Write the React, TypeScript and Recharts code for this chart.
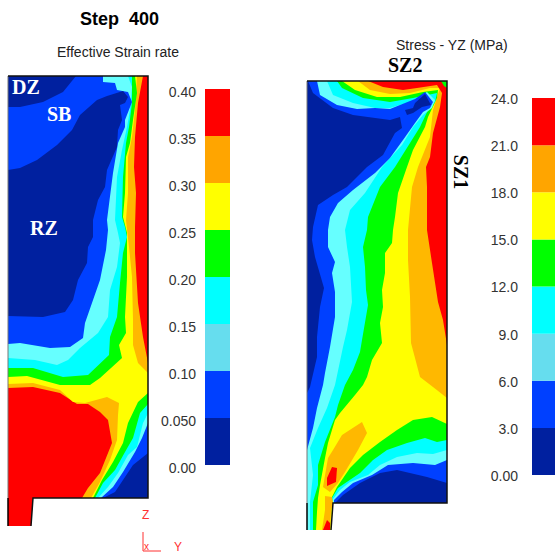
import React from 'react';
import { ScatterChart, Scatter, XAxis, YAxis, BarChart, Bar } from 'recharts';

type Pt = [number, number];

const NAVY = '#00209F';
const BLUE = '#0040FF';
const LCYAN = '#66FFFF';
const CYAN = '#00FFFF';
const GREEN = '#00FF00';
const YELLOW = '#FFFF00';
const ORANGE = '#FFB800';
const RED = '#FF0000';

// colour scale, bottom to top
const barColors = ['#00209F', '#0040FF', '#66DDEE', '#00FFFF', '#00FF00', '#FFFF00', '#FFA500', '#FF0000'];
const strainBands = [0.05, 0.05, 0.05, 0.05, 0.05, 0.05, 0.05, 0.05];
const strainTicks = [0, 0.05, 0.1, 0.15, 0.2, 0.25, 0.3, 0.35, 0.4];
const strainLabels = ['0.00', '0.050', '0.10', '0.15', '0.20', '0.25', '0.30', '0.35', '0.40'];
const stressBands = [3, 3, 3, 3, 3, 3, 3, 3];
const stressTicks = [0, 3, 6, 9, 12, 15, 18, 21, 24];
const stressLabels = ['0.00', '3.0', '6.0', '9.0', '12.0', '15.0', '18.0', '21.0', '24.0'];

// contour regions of the left plot (y runs downward)
const leftOutline: Pt[] = [[8, 76], [148, 76], [148, 498], [33, 498], [31, 526], [8, 526]];
const leftOrange: Pt[] = [[8, 76], [143, 76], [138, 103], [135, 137], [134, 167], [136, 193], [135, 227], [135, 253], [138, 303], [143, 337], [148, 363], [148, 498], [82, 498], [88, 488], [100, 473], [112, 443], [108, 420], [100, 412], [88, 404], [77, 404], [60, 393], [33, 387], [8, 388]];
const leftYellow: Pt[] = [[8, 76], [137, 76], [135, 110], [132, 137], [128, 157], [128, 193], [126, 220], [129, 247], [132, 277], [133, 320], [133, 345], [138, 363], [148, 373], [148, 498], [91, 498], [100, 482], [110, 460], [117, 440], [118, 415], [119, 403], [107, 397], [85, 403], [73, 402], [60, 390], [33, 383], [8, 384]];
const leftGreen: Pt[] = [[8, 76], [135, 76], [137, 93], [133, 120], [130, 143], [126, 157], [125, 193], [123, 217], [127, 233], [127, 277], [125, 317], [126, 333], [119, 345], [122, 358], [100, 378], [90, 385], [60, 385], [27, 376], [8, 377]];
const leftCyan: Pt[] = [[8, 76], [132, 76], [132, 103], [129, 127], [126, 143], [123, 177], [122, 217], [125, 227], [127, 237], [123, 253], [120, 283], [117, 317], [110, 337], [109, 355], [88, 375], [63, 377], [33, 368], [8, 368]];
const leftLcyan: Pt[] = [[8, 76], [128, 76], [132, 87], [130, 110], [127, 127], [122, 150], [117, 177], [115, 220], [118, 233], [120, 243], [117, 267], [110, 290], [108, 317], [98, 333], [80, 348], [68, 360], [57, 365], [35, 360], [8, 358]];
const leftBlue: Pt[] = [[8, 76], [103, 76], [103, 82], [115, 83], [117, 90], [128, 92], [132, 102], [125, 120], [125, 127], [118, 143], [113, 173], [107, 220], [108, 230], [106, 250], [100, 280], [85, 323], [83, 338], [70, 347], [50, 348], [20, 343], [8, 344]];
const leftNavyTop: Pt[] = [[8, 76], [76, 76], [63, 92], [43, 102], [20, 107], [8, 107]];
const leftNavyMid: Pt[] = [[8, 170], [20, 168], [37, 160], [57, 145], [72, 130], [80, 115], [97, 100], [107, 96], [123, 91], [128, 97], [125, 103], [120, 105], [122, 120], [118, 130], [117, 147], [107, 170], [105, 187], [98, 200], [93, 220], [93, 237], [88, 247], [87, 263], [78, 280], [73, 300], [65, 312], [43, 317], [8, 316]];
const leftGreenLow: Pt[] = [[148, 393], [138, 402], [128, 423], [123, 443], [113, 462], [102, 480], [93, 498], [148, 498]];
const leftCyanLow: Pt[] = [[148, 404], [140, 413], [133, 438], [125, 452], [115, 470], [103, 483], [95, 498], [148, 498]];
const leftLcyanLow: Pt[] = [[148, 413], [143, 423], [137, 447], [128, 455], [118, 473], [108, 487], [98, 498], [148, 498]];
const leftBlueLow: Pt[] = [[148, 423], [142, 438], [135, 452], [123, 472], [113, 487], [101, 498], [148, 498]];
const leftNavyLow: Pt[] = [[148, 453], [133, 465], [123, 480], [115, 492], [103, 498], [148, 498]];

// contour regions of the right plot
const rightOutline: Pt[] = [[307, 81], [447, 81], [447, 503], [333, 503], [331, 530], [307, 530]];
const rightOrange: Pt[] = [[358, 81], [370, 90], [390, 94], [410, 93], [430, 88], [440, 88], [433, 110], [430, 137], [422, 157], [418, 167], [412, 187], [408, 230], [408, 260], [410, 297], [411, 343], [415, 358], [420, 377], [433, 387], [447, 398], [447, 81]];
const rightRed: Pt[] = [[368, 81], [383, 87], [403, 90], [417, 88], [437, 85], [442, 93], [440, 107], [433, 133], [430, 157], [426, 167], [427, 187], [427, 230], [432, 263], [438, 302], [443, 320], [447, 345], [447, 81]];
const rightGreen: Pt[] = [[307, 81], [342, 81], [355, 90], [377, 97], [400, 97], [423, 92], [438, 90], [437, 98], [428, 117], [425, 127], [413, 150], [407, 167], [398, 193], [395, 217], [393, 230], [392, 243], [385, 253], [385, 273], [382, 290], [383, 307], [380, 323], [382, 343], [372, 360], [367, 377], [363, 385], [355, 395], [340, 413], [335, 420], [328, 443], [325, 458], [320, 485], [318, 498], [317, 512], [316, 530], [307, 530]];
const rightCyan: Pt[] = [[307, 81], [337, 81], [342, 88], [363, 98], [390, 102], [413, 98], [437, 93], [435, 102], [428, 110], [420, 127], [410, 143], [395, 167], [380, 187], [368, 217], [367, 230], [363, 247], [365, 267], [366, 290], [368, 305], [362, 340], [360, 352], [353, 370], [345, 385], [338, 405], [335, 417], [325, 442], [318, 465], [318, 485], [313, 502], [313, 518], [313, 530], [307, 530]];
const rightLcyan: Pt[] = [[307, 81], [327, 81], [333, 95], [353, 103], [375, 108], [390, 108], [410, 102], [427, 92], [435, 100], [432, 108], [423, 115], [413, 127], [402, 145], [382, 167], [365, 193], [350, 210], [345, 230], [347, 247], [350, 267], [352, 302], [347, 330], [343, 347], [335, 385], [327, 408], [318, 428], [310, 448], [313, 475], [310, 502], [310, 530], [307, 530]];
const rightBlue: Pt[] = [[307, 81], [317, 81], [320, 95], [337, 105], [357, 109], [375, 108], [390, 109], [415, 99], [425, 92], [433, 102], [430, 108], [423, 112], [415, 123], [403, 140], [390, 158], [375, 173], [353, 190], [338, 203], [330, 217], [328, 230], [328, 247], [335, 262], [332, 273], [335, 292], [335, 317], [330, 347], [325, 373], [323, 385], [317, 408], [313, 428], [307, 450]];
const rightNavy: Pt[] = [[307, 81], [308, 81], [313, 93], [333, 108], [353, 115], [390, 120], [400, 117], [402, 128], [395, 133], [383, 155], [367, 167], [347, 187], [333, 195], [318, 205], [313, 227], [312, 240], [315, 257], [324, 288], [320, 307], [317, 337], [317, 357], [310, 387], [307, 393]];
const rightNavyPatch: Pt[] = [[415, 103], [425, 94], [431, 105], [422, 107], [413, 113], [407, 115], [405, 110], [413, 108]];
const rightGreenLow: Pt[] = [[447, 424], [432, 417], [413, 420], [397, 430], [380, 442], [363, 455], [350, 468], [337, 487], [332, 497], [333, 503], [447, 503]];
const rightCyanLow: Pt[] = [[447, 440], [437, 442], [425, 438], [407, 443], [387, 450], [373, 460], [360, 473], [338, 488], [332, 498], [333, 503], [447, 503]];
const rightLcyanLow: Pt[] = [[447, 450], [433, 454], [417, 453], [397, 457], [380, 465], [368, 475], [350, 482], [340, 490], [333, 499], [333, 503], [447, 503]];
const rightBlueLow: Pt[] = [[447, 460], [435, 465], [413, 463], [388, 465], [372, 475], [353, 483], [342, 492], [334, 500], [334, 503], [447, 503]];
const rightNavyLow: Pt[] = [[447, 483], [427, 477], [397, 470], [380, 473], [360, 483], [343, 495], [335, 503], [447, 503]];
const rightOrangeSpot: Pt[] = [[362, 422], [367, 433], [358, 450], [345, 472], [338, 483], [330, 492], [323, 487], [328, 458], [333, 450], [342, 435]];
const rightRedSpot: Pt[] = [[332, 467], [337, 468], [336, 482], [327, 486], [327, 478]];
const pinOrange: Pt[] = [[325, 496], [332, 497], [333, 503], [331, 510], [330, 530], [322, 530], [325, 510]];
const pinRed: Pt[] = [[323, 530], [327, 520], [330, 523], [330, 530]];
const cornerGreen: Pt[] = [[441, 81], [447, 81], [447, 88], [444, 86]];

// painted back to front
const layers: [Pt[], string][] = [
  [leftOutline, RED],
  [leftOrange, ORANGE],
  [leftYellow, YELLOW],
  [leftGreen, GREEN],
  [leftCyan, CYAN],
  [leftLcyan, LCYAN],
  [leftBlue, BLUE],
  [leftNavyTop, NAVY],
  [leftNavyMid, NAVY],
  [leftGreenLow, GREEN],
  [leftCyanLow, CYAN],
  [leftLcyanLow, LCYAN],
  [leftBlueLow, BLUE],
  [leftNavyLow, NAVY],
  [rightOutline, YELLOW],
  [rightOrange, ORANGE],
  [rightRed, RED],
  [rightGreen, GREEN],
  [rightCyan, CYAN],
  [rightLcyan, LCYAN],
  [rightBlue, BLUE],
  [rightNavy, NAVY],
  [rightNavyPatch, NAVY],
  [rightGreenLow, GREEN],
  [rightCyanLow, CYAN],
  [rightLcyanLow, LCYAN],
  [rightBlueLow, BLUE],
  [rightNavyLow, NAVY],
  [rightOrangeSpot, ORANGE],
  [rightRedSpot, RED],
  [pinOrange, ORANGE],
  [pinRed, RED],
  [cornerGreen, GREEN],
];

// outlines and the little axis triad
const frames: [Pt[], string, number][] = [
  [[[8, 76], [8, 498]], '#777777', 1],
  [[[8, 498], [8, 526]], '#000000', 1.5],
  [[[8, 76], [148, 76], [148, 498], [33, 498], [31, 526]], '#111111', 1.5],
  [[[307, 81], [307, 503]], '#777777', 1],
  [[[307, 503], [307, 530]], '#000000', 1.5],
  [[[307, 81], [447, 81], [447, 503], [333, 503], [331, 530]], '#111111', 1.5],
  [[[143, 532], [143, 551], [161, 551]], '#FF3030', 1],
];

const toPoints = (pts: Pt[]) => pts.map(([x, y]) => ({ x, y }));
const noDot = () => <g />;

const sans = '"Liberation Sans", Arial, sans-serif';
const serif = '"Liberation Serif", "Times New Roman", serif';

const labels: { text: string; left: number; top: number; style: React.CSSProperties }[] = [
  { text: 'Step  400', left: 80, top: 9, style: { fontFamily: sans, fontWeight: 700, fontSize: 18, color: '#000' } },
  { text: 'Effective Strain rate', left: 57, top: 44, style: { fontFamily: sans, fontSize: 14, color: '#222' } },
  { text: 'Stress - YZ (MPa)', left: 396, top: 37, style: { fontFamily: sans, fontSize: 14, color: '#222' } },
  { text: 'SZ2', left: 388, top: 54, style: { fontFamily: serif, fontWeight: 700, fontSize: 20, color: '#000' } },
  { text: 'DZ', left: 12, top: 76, style: { fontFamily: serif, fontWeight: 700, fontSize: 20, color: '#fff' } },
  { text: 'SB', left: 47, top: 103, style: { fontFamily: serif, fontWeight: 700, fontSize: 20, color: '#fff' } },
  { text: 'RZ', left: 30, top: 217, style: { fontFamily: serif, fontWeight: 700, fontSize: 20, color: '#fff' } },
  { text: 'Z', left: 142, top: 509, style: { fontFamily: sans, fontSize: 12, color: '#FF3030' } },
  { text: 'x', left: 144, top: 541, style: { fontFamily: sans, fontSize: 10, color: '#FF3030' } },
  { text: 'Y', left: 174, top: 541, style: { fontFamily: sans, fontSize: 12, color: '#FF3030' } },
];

type ScaleProps = {
  left: number;
  top: number;
  width: number;
  height: number;
  bands: number[];
  ticks: number[];
  tickLabels: string[];
  axisWidth: number;
  tickMargin: number;
  tickDy: number;
  margin: { top: number; right: number; bottom: number; left: number };
};

const ColorScale = ({ left, top, width, height, bands, ticks, tickLabels, axisWidth, tickMargin, tickDy, margin }: ScaleProps) => {
  const row: Record<string, number | string> = { name: 'scale' };
  bands.forEach((b, i) => { row[`b${i}`] = b; });
  return (
    <div style={{ position: 'absolute', left, top }}>
      <BarChart width={width} height={height} data={[row]} margin={margin} barCategoryGap={0}>
        <XAxis dataKey="name" hide />
        <YAxis
          type="number"
          width={axisWidth}
          domain={[ticks[0], ticks[ticks.length - 1]]}
          ticks={ticks}
          interval={0}
          axisLine={false}
          tickLine={false}
          tickMargin={tickMargin}
          tick={{ fill: '#333333', fontSize: 14, fontFamily: sans, dy: tickDy }}
          tickFormatter={(v: number) => tickLabels[ticks.indexOf(v)]}
        />
        {bands.map((_, i) => (
          <Bar key={i} dataKey={`b${i}`} stackId="s" fill={barColors[i]} isAnimationActive={false} />
        ))}
      </BarChart>
    </div>
  );
};

const App = () => (
  <div style={{ position: 'absolute', left: 0, top: 0, width: 556, height: 553, background: '#fff', overflow: 'hidden' }}>
    <ScatterChart width={556} height={553} margin={{ top: 0, right: 0, bottom: 0, left: 0 }}>
      <XAxis type="number" dataKey="x" domain={[0, 556]} hide />
      <YAxis type="number" dataKey="y" domain={[0, 553]} reversed hide />
      {layers.map(([pts, color], i) => (
        <Scatter
          key={`layer${i}`}
          data={toPoints(pts)}
          fill={color}
          line={{ fill: color, stroke: 'none' }}
          shape={noDot}
          isAnimationActive={false}
        />
      ))}
      {frames.map(([pts, color, w], i) => (
        <Scatter
          key={`frame${i}`}
          data={toPoints(pts)}
          fill="none"
          line={{ fill: 'none', stroke: color, strokeWidth: w }}
          shape={noDot}
          isAnimationActive={false}
        />
      ))}
    </ScatterChart>

    <ColorScale
      left={150} top={70} width={90} height={410}
      bands={strainBands} ticks={strainTicks} tickLabels={strainLabels}
      axisWidth={55} tickMargin={3} tickDy={3}
      margin={{ top: 19, right: 10, bottom: 15, left: 0 }}
    />
    <ColorScale
      left={470} top={80} width={86} height={410}
      bands={stressBands} ticks={stressTicks} tickLabels={stressLabels}
      axisWidth={62} tickMargin={8} tickDy={1}
      margin={{ top: 18, right: 1, bottom: 15, left: 0 }}
    />

    {labels.map((l) => (
      <div key={l.text} style={{ position: 'absolute', left: l.left, top: l.top, whiteSpace: 'pre', lineHeight: 1.15, ...l.style }}>
        {l.text}
      </div>
    ))}
    <div style={{ position: 'absolute', left: 460, top: 172, whiteSpace: 'pre', fontFamily: serif, fontWeight: 700, fontSize: 20, color: '#000', transform: 'translate(-50%, -50%) rotate(90deg)' }}>
      SZ1
    </div>
  </div>
);

export default App;
